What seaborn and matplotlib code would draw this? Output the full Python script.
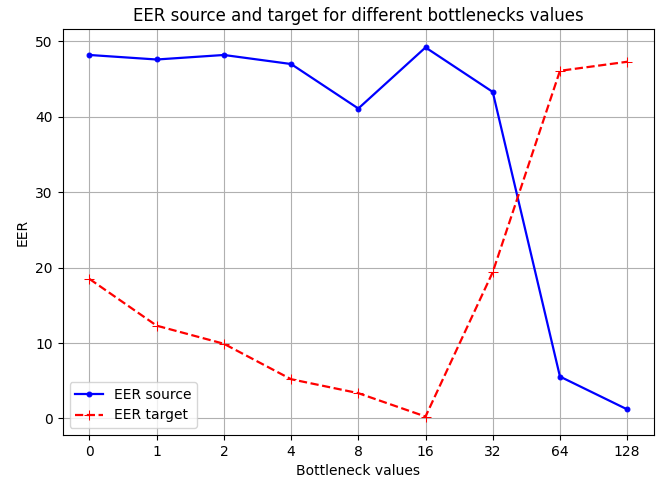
import matplotlib
matplotlib.use('Agg')
import matplotlib.pyplot as plt
import pandas as pd
import seaborn as sns

BOTTLENECKS = ['0', '1', '2', '4', '8', '16', '32', '64', '128']
EER_SOURCE = [48.2, 47.6, 48.2, 47.0, 41.1, 49.2, 43.3, 5.55, 1.2]
EER_TARGET = [18.5, 12.3, 9.9, 5.2, 3.35, 0.25, 19.4, 46.1, 47.3]


def main() -> None:
    df = pd.DataFrame({'bottleneck': BOTTLENECKS, 'source': EER_SOURCE, 'target': EER_TARGET})
    fig, ax = plt.subplots(figsize=(6.62, 4.83), dpi=100)
    sns.lineplot(data=df, x='bottleneck', y='source', ax=ax, color='blue', marker='.',
                 markersize=7, markeredgecolor='blue', linewidth=1.6, label='EER source', sort=False)
    sns.lineplot(data=df, x='bottleneck', y='target', ax=ax, color='red', marker='+',
                 markersize=7, markeredgecolor='red', linewidth=1.6, linestyle='--',
                 label='EER target', sort=False)
    ax.grid(True)
    ax.set_title('EER source and target for different bottlenecks values')
    ax.set_xlabel('Bottleneck values')
    ax.set_ylabel('EER')
    ax.legend(loc='lower left')
    fig.subplots_adjust(left=0.0945, right=0.988, top=0.94, bottom=0.0994)
    plt.savefig('out.png', dpi=100)
    plt.close()


if __name__ == '__main__':
    main()
